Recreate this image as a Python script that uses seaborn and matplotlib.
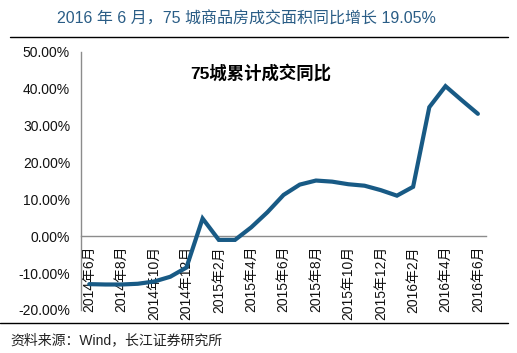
import numpy as np
import pandas as pd
import matplotlib
matplotlib.use("Agg")
import matplotlib.pyplot as plt
import seaborn as sns
from matplotlib.lines import Line2D
from matplotlib.ticker import FuncFormatter, FixedLocator

# monthly cumulative yoy growth of 75-city transaction area, 2014-06 .. 2016-06
months = ['2014年6月', '2014年7月', '2014年8月', '2014年9月', '2014年10月', '2014年11月',
          '2014年12月', '2015年1月', '2015年2月', '2015年3月', '2015年4月', '2015年5月',
          '2015年6月', '2015年7月', '2015年8月', '2015年9月', '2015年10月', '2015年11月',
          '2015年12月', '2016年1月', '2016年2月', '2016年3月', '2016年4月', '2016年5月',
          '2016年6月']
yoy = [-13.0, -13.1, -13.1, -12.9, -12.3, -11.0, -8.5, 4.8, -1.0, -1.0, 2.4, 6.5,
       11.2, 14.0, 15.1, 14.8, 14.1, 13.7, 12.5, 11.0, 13.4, 35.0, 40.7, 36.9, 33.2]
yticks = [-20, -10, 0, 10, 20, 30, 40, 50]

title = '2016 年 6 月，75 城商品房成交面积同比增长 19.05%'
series_name = '75城累计成交同比'
source = '资料来源：Wind，长江证券研究所'

sns.set_style('white')
plt.rcParams['font.family'] = ['Liberation Sans', 'Noto Sans CJK SC', 'DejaVu Sans']

df = pd.DataFrame({'pos': np.arange(len(months)), 'month': months, 'yoy': yoy})

fig = plt.figure(figsize=(5.17, 3.53), dpi=100)
ax = fig.add_axes([0.157, 0.122, 0.783, 0.731])

sns.lineplot(data=df, x='pos', y='yoy', color='#185a85', linewidth=3, ax=ax,
             solid_joinstyle='miter', zorder=3)

ax.set_xlim(-0.5, len(months) - 0.5)
ax.set_ylim(-20, 50)
ax.set_yticks(yticks)
ax.yaxis.set_major_formatter(FuncFormatter(lambda v, p: f'{v:.2f}%'))

label_pos = df['pos'][::2].tolist()
ax.set_xticks(label_pos)
ax.set_xticklabels(df['month'][::2])
ax.xaxis.set_minor_locator(FixedLocator([p + 1.5 for p in label_pos[:-1]]))
ax.tick_params(axis='x', which='major', length=0, pad=7, labelsize=10,
               labelcolor='#111111', labelrotation=90)
ax.tick_params(axis='x', which='minor', length=4, width=1, color='#8c8c8c', direction='out')
ax.tick_params(axis='y', length=4, width=1, color='#8c8c8c', direction='out',
               labelsize=10, labelcolor='#111111', pad=4)

for s in ['top', 'right']:
    ax.spines[s].set_visible(False)
ax.spines['bottom'].set_position(('data', 0))
for s in ['left', 'bottom']:
    ax.spines[s].set_color('#8c8c8c')
    ax.spines[s].set_linewidth(1)
ax.set_xlabel('')
ax.set_ylabel('')
ax.grid(False)

ax.text(0.269, 0.919, series_name, transform=ax.transAxes, fontsize=12.5,
        fontweight='bold', ha='left', va='center', color='black')

fig.text(246 / 517, 1 - 19 / 353, title, ha='center', va='center', fontsize=11.5,
         color='#2a5d86')
fig.add_artist(Line2D([10 / 517, 508 / 517], [1 - 37 / 353] * 2, color='black',
                      linewidth=1, transform=fig.transFigure))
fig.add_artist(Line2D([0, 508 / 517], [1 - 323 / 353] * 2, color='black',
                      linewidth=1, transform=fig.transFigure))
fig.text(10 / 517, 1 - 340 / 353, source, ha='left', va='center', fontsize=10,
         color='#222222')

plt.savefig('out.png', dpi=100)
plt.close()
